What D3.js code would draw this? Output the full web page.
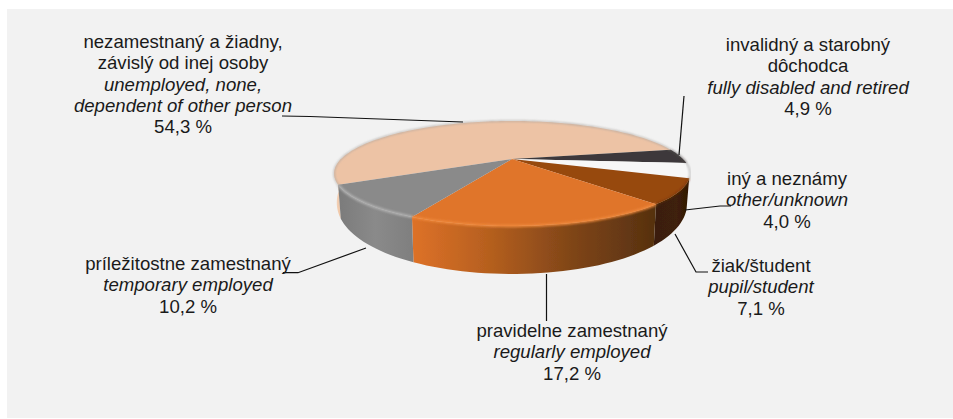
<!DOCTYPE html>
<html>
<head>
<meta charset="utf-8">
<script src="https://cdn.jsdelivr.net/npm/d3@7"></script>
<style>
html, body { margin: 0; padding: 0; background: #fff; }
svg { display: block; }
text { font-family: "Liberation Sans", Arial, sans-serif; font-size: 18.6px; fill: #1a1a1a; }
</style>
</head>
<body>
<svg width="953" height="419"></svg>
<script>
// printed labels
var skLabels = ["nezamestnaný a žiadny,|závislý od inej osoby", "invalidný a starobný|dôchodca", "iný a neznámy", "žiak/študent", "pravidelne zamestnaný", "príležitostne zamestnaný"];
var enLabels = ["unemployed, none,|dependent of other person", "fully disabled and retired", "other/unknown", "pupil/student", "regularly employed", "temporary employed"];
var pctLabels = ["54,3 %", "4,9 %", "4,0 %", "7,1 %", "17,2 %", "10,2 %"];
// sweep of each slice as drawn (printed numbers only add up to 97.7)
var shares = [54.4, 4.5, 4.5, 7.5, 18.9, 10.1];
var topColors = ["#edc3a5", "#3d393a", "#f7f7f7", "#97480f", "#e0752b", "#8a8a8a"];
var labelX = [183, 808, 787, 761, 572, 188];
var labelY = [48, 51, 185, 272, 337, 270];

var svg = d3.select("svg");

svg.append("rect")
    .attr("x", 7).attr("y", 9)
    .attr("width", 946).attr("height", 409)
    .attr("fill", "#f2f2f2");

// top of the pie is a circle seen in perspective
var cx = 512, apexY = 159, rx = 171, ry = 48.5, k = 0.276;
var toRad = Math.PI / 180;

function project(a) {
    var u = Math.cos(a), v = Math.sin(a), w = 1 - k * v;
    return [cx + rx * u / w, apexY + ry * v / w];
}

// wall gets taller towards the viewer
function projectBottom(a) {
    var p = project(a);
    return [cx + (p[0] - cx) * 0.985, p[1] + 22 + 26 * Math.sin(a)];
}

var pie = d3.pie().sort(null)
    .startAngle(152.5 * toRad)
    .endAngle(512.5 * toRad);

var slices = pie(shares);
var line = d3.line();

function arcPoints(a0, a1, fn) {
    var n = Math.max(2, Math.ceil((a1 - a0) / (2 * toRad)));
    return d3.range(n + 1).map(function (i) {
        return fn(a0 + (a1 - a0) * i / n);
    });
}

var defs = svg.append("defs");
defs.append("filter").attr("id", "soft")
    .append("feGaussianBlur").attr("stdDeviation", 0.6);
defs.append("filter").attr("id", "softer")
    .attr("x", "-5%").attr("y", "-20%").attr("width", "110%").attr("height", "140%")
    .append("feGaussianBlur").attr("stdDeviation", 1.1);

function wallGradient(id, x1, x2, stops) {
    var g = defs.append("linearGradient").attr("id", id)
        .attr("gradientUnits", "userSpaceOnUse")
        .attr("x1", x1).attr("x2", x2).attr("y1", 0).attr("y2", 0);
    stops.forEach(function (s) {
        g.append("stop").attr("offset", s[0]).attr("stop-color", s[1]);
    });
}
wallGradient("wall0", 332, 340, [[0, "#f7e0cf"], [1, "#efc6a6"]]);
wallGradient("wall3", 658, 690, [[0, "#3a1f0a"], [0.6, "#3f2008"], [1, "#2e1704"]]);
wallGradient("wall4", 413, 658, [[0, "#dd7128"], [0.3, "#b7601f"], [0.65, "#7f4518"], [1, "#55300f"]]);
wallGradient("wall5", 338, 413, [[0, "#7b7b7b"], [0.5, "#8a8a8a"], [1, "#7f7f7f"]]);

var wallFill = { 0: "url(#wall0)", 3: "url(#wall3)", 4: "url(#wall4)", 5: "url(#wall5)" };

var pieG = svg.append("g").attr("filter", "url(#soft)");

// side walls, only the front half can be seen
slices.forEach(function (d, i) {
    var a0 = d.startAngle, a1 = d.endAngle;
    if (i === 0) { a1 = Math.PI; }
    if (i === 3 || i === 4 || i === 5 || i === 0) {
        var pts = arcPoints(a0, a1, project)
            .concat(arcPoints(a0, a1, projectBottom).reverse());
        pieG.append("path")
            .attr("d", line(pts) + "Z")
            .attr("fill", wallFill[i]);
    }
});

// top faces
slices.forEach(function (d, i) {
    var pts = [[cx, apexY]].concat(arcPoints(d.startAngle, d.endAngle, project));
    pieG.append("path")
        .attr("d", line(pts) + "Z")
        .attr("fill", topColors[i]);
});

// bevel along the rim
var rimColors = ["#a8a29d", "#55504f", "#a5a5a5", "#6e3208", "#f08a3c", "#b3b3b3"];
slices.forEach(function (d, i) {
    pieG.append("path")
        .attr("d", line(arcPoints(d.startAngle, d.endAngle, project)))
        .attr("fill", "none")
        .attr("stroke", rimColors[i])
        .attr("stroke-width", i === 4 || i === 5 ? 2.4 : 1.1)
        .attr("filter", "url(#softer)");
});

// leader lines
var leaders = [
    [[282, 116], [310, 116.5], [463, 122]],
    [[684, 96], [679, 155]],
    [[685, 210], [720, 206], [731, 206]],
    [[675, 234], [696, 272], [708, 272]],
    [[546.5, 274], [546.5, 321]],
    [[366, 248], [298, 272.7], [283, 272.7]]
];
svg.append("g").selectAll("path")
    .data(leaders)
    .enter().append("path")
    .attr("d", function (d) { return line(d); })
    .attr("fill", "none")
    .attr("stroke", "#111")
    .attr("stroke-width", 1.2);

// labels: slovak, english in italics, percentage
var labelG = svg.append("g").attr("text-anchor", "middle");
skLabels.forEach(function (sk, i) {
    var rows = sk.split("|").map(function (t) { return { t: t, it: false }; })
        .concat(enLabels[i].split("|").map(function (t) { return { t: t, it: true }; }))
        .concat([{ t: pctLabels[i], it: false }]);
    var txt = labelG.append("text")
        .attr("x", labelX[i])
        .attr("y", labelY[i]);
    rows.forEach(function (r, j) {
        txt.append("tspan")
            .attr("x", labelX[i])
            .attr("dy", j === 0 ? 0 : 21.3)
            .attr("font-style", r.it ? "italic" : null)
            .text(r.t);
    });
});
</script>
</body>
</html>
